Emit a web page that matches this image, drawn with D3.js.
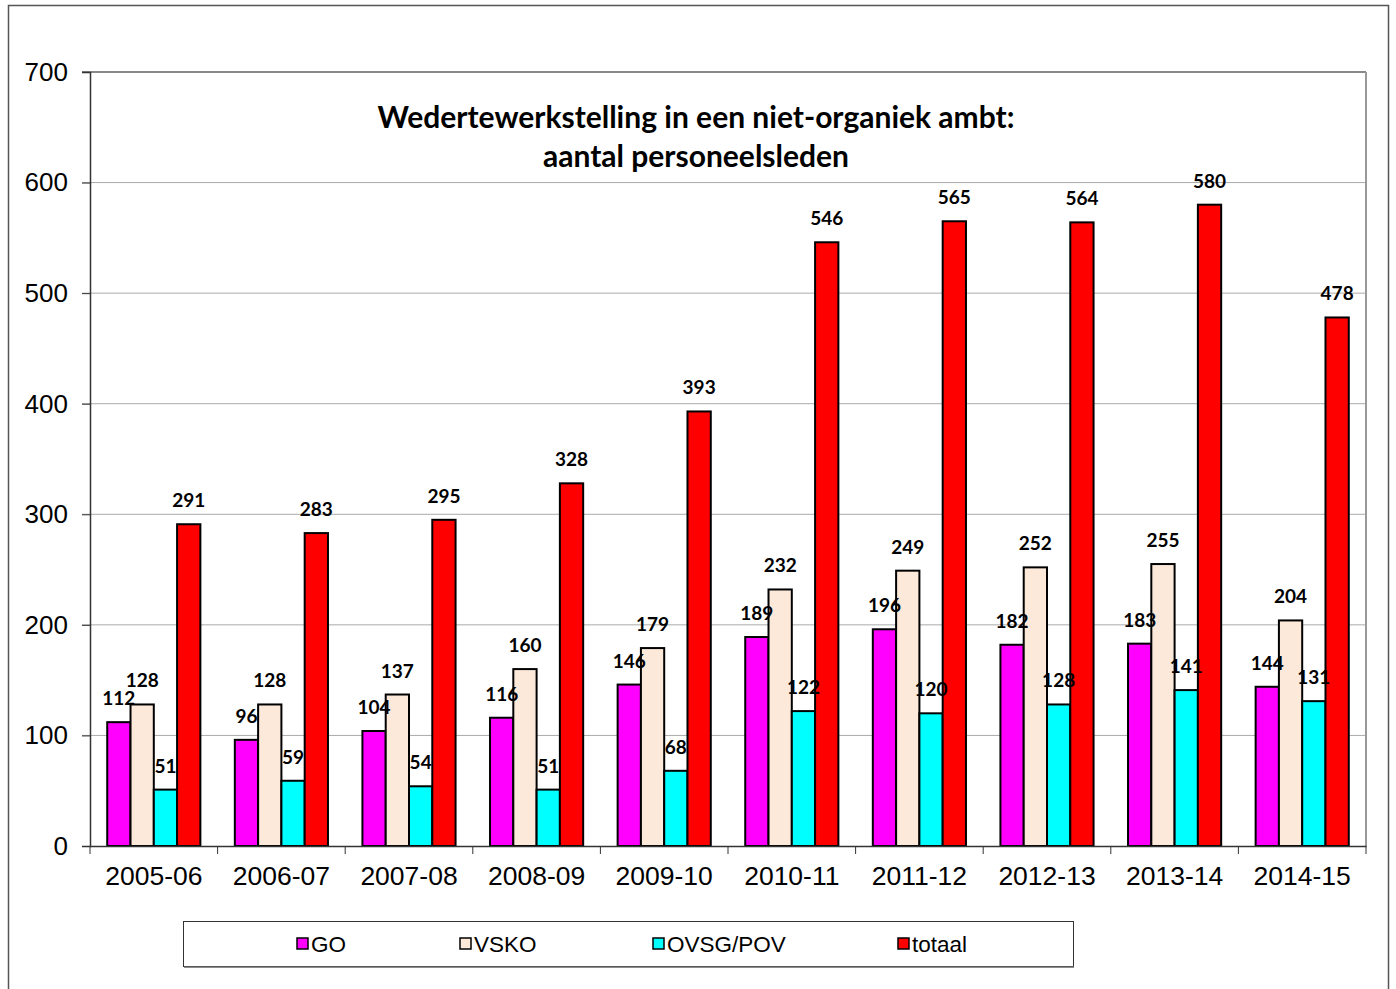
<!DOCTYPE html>
<html>
<head>
<meta charset="utf-8">
<script src="https://d3js.org/d3.v7.min.js"></script>
<style>
  body { margin: 0; background: #fff; }
  svg { display: block; }
</style>
</head>
<body>
<svg id="vis"></svg>
<script>
  // school years on the x axis
  var years = ['2005-06', '2006-07', '2007-08', '2008-09', '2009-10',
               '2010-11', '2011-12', '2012-13', '2013-14', '2014-15'];

  var seriesNames = ['GO', 'VSKO', 'OVSG/POV', 'totaal'];

  var goValues     = [112, 96, 104, 116, 146, 189, 196, 182, 183, 144];
  var vskoValues   = [128, 128, 137, 160, 179, 232, 249, 252, 255, 204];
  var ovsgValues   = [51, 59, 54, 51, 68, 122, 120, 128, 141, 131];
  var totaalValues = [291, 283, 295, 328, 393, 546, 565, 564, 580, 478];

  var yTicks = [0, 100, 200, 300, 400, 500, 600, 700];

  var titleLines = ['Wedertewerkstelling in een niet-organiek ambt:', 'aantal personeelsleden'];

  var colors = ['#ff00ff', '#fde9d9', '#00ffff', '#ff0000'];
  var allValues = [goValues, vskoValues, ovsgValues, totaalValues];

  var svg = d3.select('#vis')
      .attr('width', 1396)
      .attr('height', 989);

  // outer chart frame (bottom edge falls outside the picture)
  svg.append('rect')
      .attr('x', 8.5).attr('y', 5.5)
      .attr('width', 1380).attr('height', 1000)
      .attr('fill', 'none')
      .attr('stroke', '#555')
      .attr('stroke-width', 1.5);

  var plotLeft = 90, plotRight = 1366, plotTop = 72, plotBottom = 846;

  var yScale = d3.scaleLinear()
      .domain([0, 700])
      .range([plotBottom, plotTop]);

  var xScale = d3.scaleBand()
      .domain(years)
      .range([plotLeft, plotRight])
      .paddingInner(0.27)
      .paddingOuter(0.135);

  var xAxisScale = d3.scaleBand()
      .domain(years)
      .range([plotLeft, plotRight]);

  var xSub = d3.scaleBand()
      .domain(seriesNames)
      .range([0, xScale.bandwidth()]);

  // gridlines
  svg.selectAll('line.grid')
      .data(yTicks.filter(function(d) { return d > 0; }))
      .enter().append('line')
      .attr('class', 'grid')
      .attr('x1', plotLeft - 8)
      .attr('x2', plotRight)
      .attr('y1', function(d) { return yScale(d); })
      .attr('y2', function(d) { return yScale(d); })
      .attr('stroke', function(d) { return d === 700 ? '#888' : '#aaa'; })
      .attr('stroke-width', function(d) { return d === 700 ? 2 : 1; });

  // right border of plot area
  svg.append('line')
      .attr('x1', plotRight).attr('x2', plotRight)
      .attr('y1', plotTop).attr('y2', plotBottom)
      .attr('stroke', '#999').attr('stroke-width', 2);

  // y axis
  var yAxis = d3.axisLeft(yScale)
      .tickValues(yTicks)
      .tickSize(8)
      .tickPadding(14);

  var yg = svg.append('g')
      .attr('transform', 'translate(' + plotLeft + ',0)')
      .call(yAxis);
  yg.select('.domain').attr('stroke', '#333').attr('stroke-width', 1.5);
  yg.selectAll('.tick line').attr('stroke', '#333');
  yg.selectAll('.tick text')
      .attr('font-family', 'Liberation Sans, Arial, sans-serif')
      .attr('font-size', 26)
      .attr('fill', '#000');

  // bars
  var bars = [];
  years.forEach(function(yr, i) {
    seriesNames.forEach(function(s, j) {
      bars.push({year: yr, series: s, value: allValues[j][i], color: colors[j]});
    });
  });

  svg.selectAll('rect.bar')
      .data(bars)
      .enter().append('rect')
      .attr('class', 'bar')
      .attr('x', function(d) { return xScale(d.year) + xSub(d.series); })
      .attr('y', function(d) { return yScale(d.value); })
      .attr('width', xSub.bandwidth())
      .attr('height', function(d) { return plotBottom - yScale(d.value); })
      .attr('fill', function(d) { return d.color; })
      .attr('stroke', '#000')
      .attr('stroke-width', 2);

  svg.selectAll('text.lbl')
      .data(bars)
      .enter().append('text')
      .attr('class', 'lbl')
      .attr('x', function(d) { return xScale(d.year) + xSub(d.series) + xSub.bandwidth() / 2; })
      .attr('y', function(d) { return yScale(d.value) - 17; })
      .attr('text-anchor', 'middle')
      .attr('font-family', 'Lato, sans-serif')
      .attr('font-weight', 'bold')
      .attr('font-size', 19)
      .attr('fill', '#000')
      .text(function(d) { return d.value; });

  // x axis
  var xg = svg.append('g')
      .attr('transform', 'translate(0,' + plotBottom + ')')
      .call(d3.axisBottom(xAxisScale).tickSize(0).tickPadding(20));
  xg.select('.domain').attr('stroke', '#333').attr('stroke-width', 1.5);
  xg.selectAll('.tick text')
      .attr('font-family', 'Liberation Sans, Arial, sans-serif')
      .attr('font-size', 26.5)
      .attr('fill', '#000');

  var boundaries = years.map(function(d) { return xAxisScale(d); }).concat([plotRight]);
  xg.selectAll('line.sep')
      .data(boundaries)
      .enter().append('line')
      .attr('class', 'sep')
      .attr('x1', function(d) { return d; })
      .attr('x2', function(d) { return d; })
      .attr('y1', 0).attr('y2', 8)
      .attr('stroke', '#333');

  // title
  svg.selectAll('text.title')
      .data(titleLines)
      .enter().append('text')
      .attr('class', 'title')
      .attr('x', 696)
      .attr('y', function(d, i) { return 128 + i * 39; })
      .attr('text-anchor', 'middle')
      .attr('font-family', 'Lato, sans-serif')
      .attr('font-weight', 'bold')
      .attr('font-size', 30)
      .attr('fill', '#000')
      .text(function(d) { return d; });

  // legend
  var legend = svg.append('g');
  legend.append('rect')
      .attr('x', 183.5).attr('y', 921.5)
      .attr('width', 890).attr('height', 45)
      .attr('fill', '#fff')
      .attr('stroke', '#333')
      .attr('stroke-width', 1);
  legend.append('line')
      .attr('x1', 184).attr('x2', 1074)
      .attr('y1', 967).attr('y2', 967)
      .attr('stroke', '#666').attr('stroke-width', 1.5);

  var legendX = [297, 460, 653, 898];
  var items = legend.selectAll('g.item')
      .data(seriesNames)
      .enter().append('g')
      .attr('class', 'item')
      .attr('transform', function(d, i) { return 'translate(' + legendX[i] + ',938)'; });
  items.append('rect')
      .attr('width', 11).attr('height', 11)
      .attr('fill', function(d, i) { return colors[i]; })
      .attr('stroke', '#000')
      .attr('stroke-width', 1.5);
  items.append('text')
      .attr('x', 14)
      .attr('y', 14)
      .attr('font-family', 'Liberation Sans, Arial, sans-serif')
      .attr('font-size', 22.5)
      .attr('fill', '#000')
      .text(function(d) { return d; });
</script>
</body>
</html>
